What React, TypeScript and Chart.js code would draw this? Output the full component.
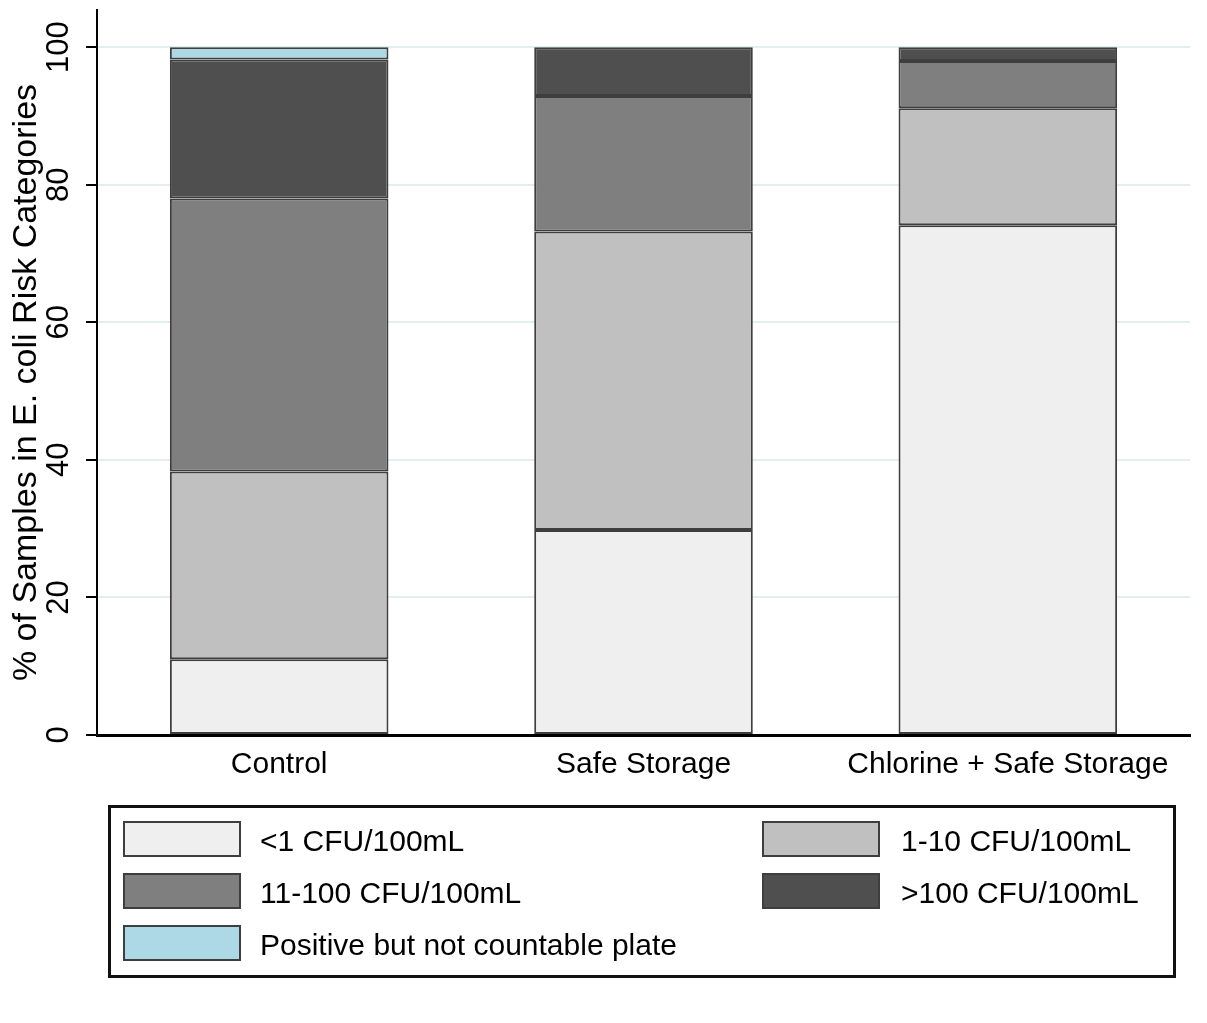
import React, { useEffect, useRef } from "react";
import { Chart, registerables } from "chart.js";

Chart.register(...registerables);

const FONT = "'Liberation Sans', Arial, Helvetica, sans-serif";

const CATEGORIES = ["Control", "Safe Storage", "Chlorine + Safe Storage"];
const SERIES_LABELS = [
  "<1 CFU/100mL",
  "1-10 CFU/100mL",
  "11-100 CFU/100mL",
  ">100 CFU/100mL",
  "Positive but not countable plate",
];
const SERIES_COLORS = ["#efefef", "#c0c0c0", "#7f7f7f", "#4f4f4f", "#add8e6"];

const LT1 = [11.0, 29.8, 74.1];
const R1_10 = [27.3, 43.4, 17.0];
const R11_100 = [39.7, 19.7, 6.9];
const GT100 = [20.2, 7.1, 2.0];
const POSITIVE = [1.8, null, null];

const Y_TICKS = [0, 20, 40, 60, 80, 100];
const Y_TITLE = "% of Samples in E. coli Risk Categories";

const SERIES_VALUES = [LT1, R1_10, R11_100, GT100, POSITIVE];

const overlayPlugin = {
  id: "overlay",
  afterDraw(chart: any) {
    const ctx = chart.ctx as CanvasRenderingContext2D;
    const ys = chart.scales.y;
    ctx.save();
    ctx.fillStyle = "#000";
    // y tick labels (rotated)
    ctx.font = `31px ${FONT}`;
    ctx.textAlign = "center";
    ctx.textBaseline = "alphabetic";
    ys.ticks.forEach((t: any) => {
      const py = ys.getPixelForValue(t.value);
      ctx.save();
      ctx.translate(68, py);
      ctx.rotate(-Math.PI / 2);
      ctx.fillText(String(t.value), 0, 0);
      ctx.restore();
    });
    // y title
    ctx.font = `34px ${FONT}`;
    ctx.save();
    ctx.translate(36, (ys.top + ys.bottom) / 2 + 10);
    ctx.rotate(-Math.PI / 2);
    ctx.fillText(Y_TITLE, 0, 0);
    ctx.restore();

    // legend box
    ctx.lineWidth = 3;
    ctx.strokeStyle = "#111";
    ctx.strokeRect(109.5, 806.5, 1065, 170);

    ctx.font = `30px ${FONT}`;
    ctx.textAlign = "left";
    ctx.textBaseline = "middle";
    chart.data.datasets.forEach((ds: any, i: number) => {
      const col = i % 2;
      const row = Math.floor(i / 2);
      const sx = col ? 762 : 123;
      const sy = 821 + row * 52;
      ctx.fillStyle = ds.backgroundColor;
      ctx.fillRect(sx, sy, 118, 36);
      ctx.lineWidth = 2;
      ctx.strokeStyle = "#3e3e3e";
      ctx.strokeRect(sx + 1, sy + 1, 116, 34);
      ctx.fillStyle = "#000";
      ctx.fillText(ds.label, col ? 901 : 260, sy + 22);
    });
    ctx.restore();
  },
};

export default function App() {
  const ref = useRef<HTMLCanvasElement>(null);
  useEffect(() => {
    if (!ref.current) return;
    Chart.defaults.font.family = FONT;
    Chart.defaults.color = "#000";
    const chart = new Chart(ref.current, {
      type: "bar",
      data: {
        labels: CATEGORIES,
        datasets: SERIES_LABELS.map((label, i) => ({
          label,
          data: SERIES_VALUES[i],
          backgroundColor: SERIES_COLORS[i],
          borderColor: "#3e3e3e",
          borderWidth: 2,
          borderSkipped: false,
          barPercentage: 0.6,
          categoryPercentage: 1,
        })),
      },
      options: {
        responsive: false,
        animation: false,
        layout: { padding: { left: 0, top: 10, right: 17, bottom: 0 } },
        plugins: {
          legend: { display: false },
          tooltip: { enabled: false },
          title: { display: false },
        },
        scales: {
          x: {
            stacked: true,
            grid: { display: false, drawTicks: false },
            border: { display: true, color: "#000", width: 3, z: 1 },
            ticks: {
              font: { size: 30, family: FONT },
              color: "#000",
              padding: 12,
              autoSkip: false,
              maxRotation: 0,
              minRotation: 0,
            },
            afterFit: (s: any) => {
              s.height = 288;
            },
          },
          y: {
            stacked: true,
            min: 0,
            max: 105.4,
            grid: {
              color: "#e3eeee",
              lineWidth: 2,
              drawTicks: true,
              tickLength: 11,
              tickColor: "#000",
              tickWidth: 2,
            },
            border: { display: true, color: "#000", width: 2 },
            ticks: { display: false, stepSize: 20, includeBounds: false },
            afterBuildTicks: (s: any) => {
              s.ticks = Y_TICKS.map((v) => ({ value: v }));
            },
            afterFit: (s: any) => {
              s.width = 97;
            },
          },
        },
      },
      plugins: [overlayPlugin],
    } as any);
    return () => chart.destroy();
  }, []);
  return (
    <div style={{ position: "fixed", left: 0, top: 0, width: 1207, height: 1023, background: "#fff" }}>
      <canvas ref={ref} width={1207} height={1023} />
    </div>
  );
}
